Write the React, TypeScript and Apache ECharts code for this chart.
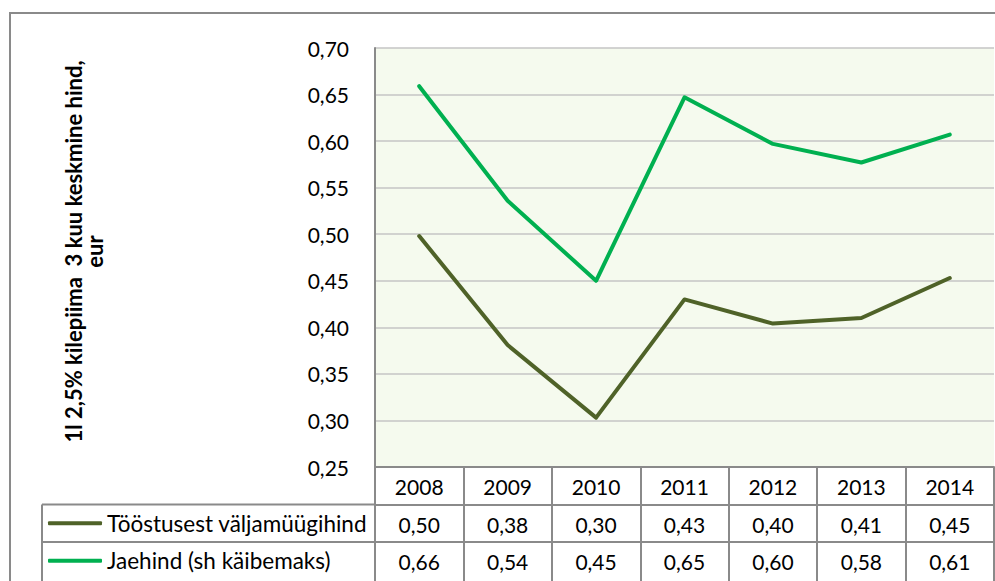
import React, { useEffect, useRef } from "react";
import * as echarts from "echarts";

const years = ["2008", "2009", "2010", "2011", "2012", "2013", "2014"];
const seriesNames = ["Tööstusest väljamüügihind", "Jaehind (sh käibemaks)"];
const factoryPrice = [0.498, 0.381, 0.303, 0.430, 0.404, 0.410, 0.453];
const retailPrice = [0.659, 0.536, 0.450, 0.647, 0.597, 0.577, 0.607];
const yTitle = "1l 2,5% kilepiima  3 kuu keskmine hind,\neur";

const FONT = "Lato";
const BORDER = "#8a8a8a";
const fmt = (v: number) => (Math.round(v * 100) / 100).toFixed(2).replace(".", ",");

export default function App() {
  const ref = useRef<HTMLDivElement>(null);
  useEffect(() => {
    if (!ref.current) return;
    const chart = echarts.init(ref.current, null, { renderer: "svg" });
    const gridLeft = 375;
    const gridTop = 48;
    const gridW = 619;
    const gridH = 419;
    const rowH = 37.5;
    const tableBottom = 581;
    const legendLeft = 42;
    const tableAxis = (vals: number[] | null, offset: number, showTick: boolean) => ({
      type: "category",
      gridIndex: 0,
      position: "bottom",
      offset,
      data: years,
      boundaryGap: true,
      axisLine: { show: true, lineStyle: { color: BORDER, width: 2 } },
      axisTick: showTick
        ? { show: true, interval: 0, length: tableBottom - (gridTop + gridH), lineStyle: { color: BORDER, width: 2 } }
        : { show: false },
      axisLabel: {
        interval: 0,
        margin: 9,
        fontFamily: FONT,
        fontSize: 21,
        color: "#000",
        formatter: (v: string, i: number) => (vals ? fmt(vals[i]) : v),
      },
      splitLine: { show: false },
    });
    const legendText = { fontFamily: FONT, fontSize: 22.5, color: "#000", lineHeight: 24 };
    chart.setOption({
      animation: false,
      textStyle: { fontFamily: FONT },
      grid: {
        left: gridLeft,
        top: gridTop,
        width: gridW,
        height: gridH,
        show: true,
        backgroundColor: "#F5FAEE",
        borderWidth: 0,
      },
      xAxis: [
        tableAxis(null, 0, true),
        tableAxis(factoryPrice, rowH, false),
        tableAxis(retailPrice, rowH * 2, false),
      ],
      yAxis: {
        type: "value",
        min: 0.25,
        max: 0.7,
        interval: 0.05,
        axisLine: { show: true, lineStyle: { color: BORDER, width: 2 } },
        axisTick: { show: false },
        splitLine: { show: true, lineStyle: { color: "#c4c4c4", width: 1.5 } },
        axisLabel: {
          margin: 26,
          fontFamily: FONT,
          fontSize: 21,
          color: "#000",
          formatter: (v: number) => v.toFixed(2).replace(".", ","),
        },
        name: yTitle,
        nameLocation: "middle",
        nameRotate: 90,
        nameGap: 270,
        nameTextStyle: {
          fontFamily: FONT,
          fontWeight: "bold",
          fontSize: 22,
          lineHeight: 21,
          color: "#000",
          align: "center",
          padding: [0, 0, 0, 12],
        },
      },
      legend: [
        {
          data: [seriesNames[0]],
          left: 48,
          top: gridTop + gridH + rowH + rowH / 2 - 12,
          padding: 0,
          icon: "roundRect",
          itemWidth: 54,
          itemHeight: 4,
          selectedMode: false,
          textStyle: legendText,
        },
        {
          data: [seriesNames[1]],
          left: 48,
          top: gridTop + gridH + rowH * 2 + rowH / 2 - 12,
          padding: 0,
          icon: "roundRect",
          itemWidth: 54,
          itemHeight: 4,
          selectedMode: false,
          textStyle: legendText,
        },
      ],
      series: [
        {
          name: seriesNames[0],
          type: "line",
          data: factoryPrice,
          showSymbol: false,
          color: "#4F6228",
          lineStyle: { width: 4, color: "#4F6228", cap: "round", join: "round" },
        },
        {
          name: seriesNames[1],
          type: "line",
          data: retailPrice,
          showSymbol: false,
          color: "#00B050",
          lineStyle: { width: 4, color: "#00B050", cap: "round", join: "round" },
        },
      ],
      graphic: [
        {
          type: "rect",
          silent: true,
          z: -1,
          shape: { x: 10, y: 13, width: 1000, height: 600 },
          style: { fill: "none", stroke: BORDER, lineWidth: 2 },
        },
        {
          type: "line",
          silent: true,
          shape: { x1: legendLeft, y1: gridTop + gridH + rowH, x2: gridLeft, y2: gridTop + gridH + rowH },
          style: { stroke: BORDER, lineWidth: 2 },
        },
        {
          type: "line",
          silent: true,
          shape: { x1: legendLeft, y1: gridTop + gridH + rowH * 2, x2: gridLeft, y2: gridTop + gridH + rowH * 2 },
          style: { stroke: BORDER, lineWidth: 2 },
        },
        {
          type: "line",
          silent: true,
          shape: { x1: legendLeft, y1: gridTop + gridH + rowH, x2: legendLeft, y2: tableBottom + 2 },
          style: { stroke: BORDER, lineWidth: 2 },
        },
      ],
    });
    return () => chart.dispose();
  }, []);
  return (
    <div
      ref={ref}
      style={{ position: "fixed", left: 0, top: 0, width: 995, height: 581, background: "#fff" }}
    />
  );
}
